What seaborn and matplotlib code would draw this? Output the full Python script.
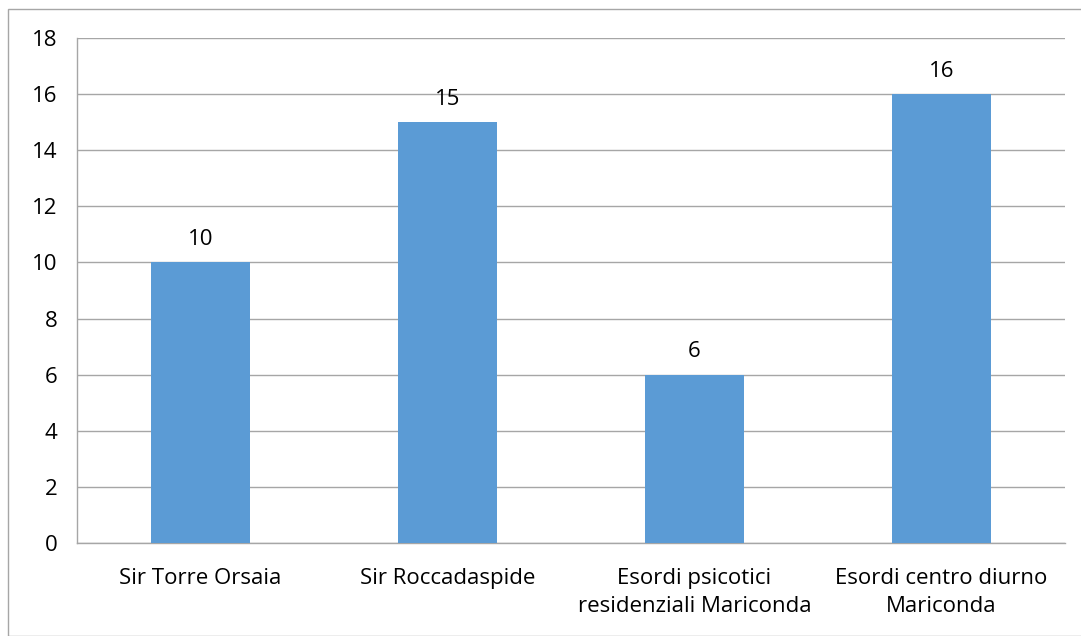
import matplotlib
matplotlib.use("Agg")
import matplotlib.pyplot as plt
import seaborn as sns
import pandas as pd

categories = ["Sir Torre Orsaia", "Sir Roccadaspide",
              "Esordi psicotici\nresidenziali Mariconda",
              "Esordi centro diurno\nMariconda"]
values = [10, 15, 6, 16]
y_ticks = [0, 2, 4, 6, 8, 10, 12, 14, 16, 18]

df = pd.DataFrame({"cat": categories, "val": values})

sns.set_style("white")
plt.rcParams['font.family'] = ['Open Sans', 'DejaVu Sans']

fig = plt.figure(figsize=(10.81, 6.36), dpi=100)
ax = fig.add_axes([77/1081, 1 - 543/636, (1065 - 77)/1081, (543 - 38)/636])

sns.barplot(data=df, x="cat", y="val", color="#5B9BD5", width=0.4,
            saturation=1, linewidth=0, ax=ax, zorder=3)

ax.set_xlim(-0.5, 3.5)
ax.set_ylim(0, 18)
ax.set_yticks(y_ticks)
ax.yaxis.grid(True, color="#A6A6A6", linewidth=1)
ax.set_axisbelow(True)
ax.set_xlabel("")
ax.set_ylabel("")

# bar value labels
for i, v in enumerate(values):
    ax.annotate(str(v), (i, v), xytext=(0, 9), textcoords="offset points",
                ha="center", va="bottom", fontsize=16, color="black")

# category boundary ticks
ax.set_xticks([-0.5, 0.5, 1.5, 2.5, 3.5], minor=True)
ax.tick_params(axis="x", which="major", length=0, pad=18, labelsize=16,
               labelcolor="black")
ax.tick_params(axis="x", which="minor", length=8, color="#A6A6A6", width=1,
               direction="out")
ax.tick_params(axis="y", length=8, color="#A6A6A6", width=1, labelsize=16,
               direction="out", pad=6, labelcolor="black")
for lbl in ax.get_xticklabels():
    lbl.set_linespacing(1.45)

for s in ["top", "right"]:
    ax.spines[s].set_visible(False)
for s in ["left", "bottom"]:
    ax.spines[s].set_color("#A6A6A6")
    ax.spines[s].set_linewidth(1)

# outer chart border
fig.patches.append(plt.Rectangle((8/1081, 0), 1, 1 - 9/636, transform=fig.transFigure,
                                 fill=False, edgecolor="#A6A6A6", linewidth=1))

fig.savefig("out.png", dpi=100)
